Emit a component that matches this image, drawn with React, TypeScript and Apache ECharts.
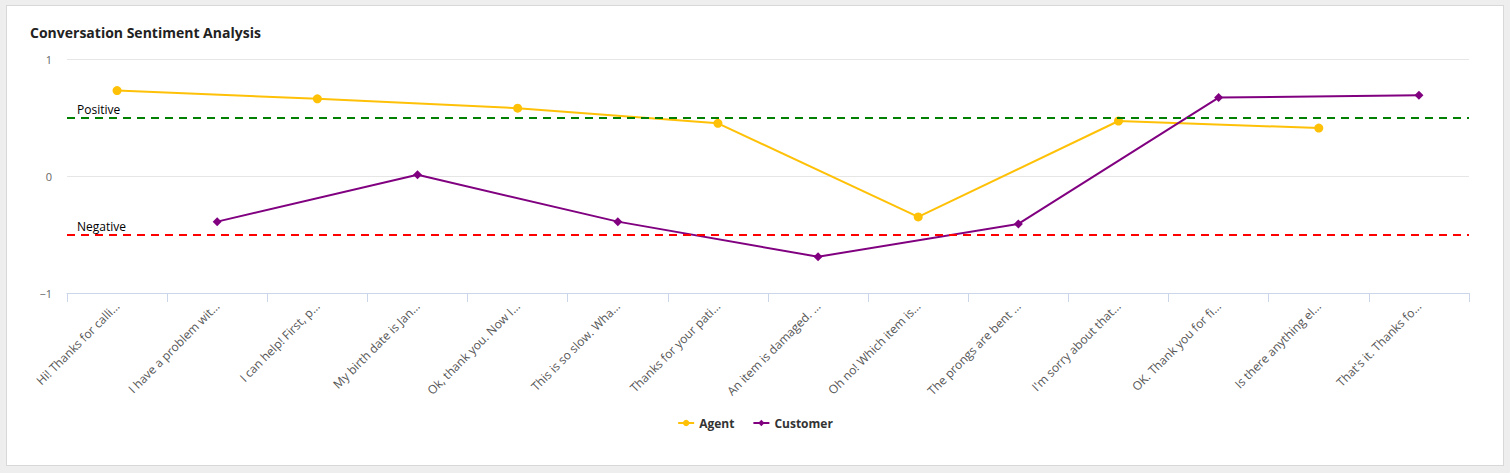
import React, { useEffect, useRef } from "react";
import * as echarts from "echarts";

const categories = [
  "Hi! Thanks for calli…",
  "I have a problem wit…",
  "I can help! First, p…",
  "My birth date is Jan…",
  "Ok, thank you. Now I…",
  "This is so slow. Wha…",
  "Thanks for your pati…",
  "An item is damaged. …",
  "Oh no! Which item is…",
  "The prongs are bent …",
  "I'm sorry about that…",
  "OK. Thank you for fi…",
  "Is there anything el…",
  "That's it. Thanks fo…",
];

const agentValues = [0.73, null, 0.66, null, 0.58, null, 0.45, null, -0.35, null, 0.47, null, 0.41, null];
const customerValues = [null, -0.39, null, 0.01, null, -0.39, null, -0.69, null, -0.41, null, 0.67, null, 0.69];

const positiveThreshold = 0.5;
const negativeThreshold = -0.5;

const FONT = "'Open Sans', 'Noto Sans', sans-serif";

export default function App() {
  const ref = useRef<HTMLDivElement>(null);
  useEffect(() => {
    if (!ref.current) return;
    const chart = echarts.init(ref.current, null, { renderer: "svg" });
    chart.setOption({
      animation: false,
      textStyle: { fontFamily: FONT },
      title: {
        text: "Conversation Sentiment Analysis",
        left: 25,
        top: 20,
        textStyle: { fontFamily: FONT, fontSize: 14, fontWeight: "bold", color: "#222" },
      },
      legend: {
        bottom: 39,
        left: "center",
        itemGap: 18,
        itemWidth: 16,
        itemHeight: 8,
        textStyle: { fontFamily: FONT, fontSize: 12, fontWeight: "bold", color: "#333" },
        data: ["Agent", "Customer"],
      },
      grid: { left: 67, right: 41, top: 59, bottom: 180, containLabel: false },
      xAxis: {
        type: "category",
        data: categories,
        boundaryGap: true,
        axisLine: { onZero: false, lineStyle: { color: "#ccd6eb", width: 1 } },
        axisTick: { show: true, length: 9, lineStyle: { color: "#ccd6eb" } },
        axisLabel: {
          rotate: 45,
          interval: 0,
          margin: 11,
          fontSize: 12,
          color: "#555",
          fontFamily: FONT,
        },
      },
      yAxis: {
        type: "value",
        min: -1,
        max: 1,
        interval: 1,
        axisLine: { show: false },
        axisTick: { show: false },
        splitLine: { lineStyle: { color: "#e6e6e6" } },
        axisLabel: {
          margin: 15,
          fontSize: 11,
          color: "#666",
          fontFamily: FONT,
          formatter: (v: number) => String(v).replace("-", "\u2212"),
        },
      },
      series: [
        {
          name: "Agent",
          type: "line",
          data: agentValues,
          connectNulls: true,
          symbol: "circle",
          symbolSize: 9,
          itemStyle: { color: "#ffc107" },
          lineStyle: { color: "#ffc107", width: 2 },
          markLine: {
            silent: true,
            symbol: "none",
            data: [
              {
                yAxis: positiveThreshold,
                lineStyle: { color: "#008000", type: [8, 6], width: 2 },
                label: {
                  show: true,
                  formatter: "Positive",
                  position: "insideStartTop",
                  distance: [10, 2],
                  color: "#000",
                  fontSize: 12,
                  fontFamily: FONT,
                },
              },
              {
                yAxis: negativeThreshold,
                lineStyle: { color: "#ff0000", type: [8, 6], width: 2 },
                label: {
                  show: true,
                  formatter: "Negative",
                  position: "insideStartTop",
                  distance: [10, 2],
                  color: "#000",
                  fontSize: 12,
                  fontFamily: FONT,
                },
              },
            ],
          },
        },
        {
          name: "Customer",
          type: "line",
          data: customerValues,
          connectNulls: true,
          symbol: "diamond",
          symbolSize: 9,
          itemStyle: { color: "#800080" },
          lineStyle: { color: "#800080", width: 2 },
        },
      ],
    });
    return () => chart.dispose();
  }, []);

  return (
    <div style={{ position: "fixed", left: 0, top: 0, width: 1510, height: 473, background: "#eeeeee" }}>
      <div
        style={{
          position: "absolute",
          left: 6,
          top: 5,
          width: 1496,
          height: 459,
          background: "#ffffff",
          border: "1px solid #d8d8d8",
        }}
      />
      <div ref={ref} style={{ position: "absolute", left: 0, top: 0, width: 1510, height: 473 }} />
    </div>
  );
}
